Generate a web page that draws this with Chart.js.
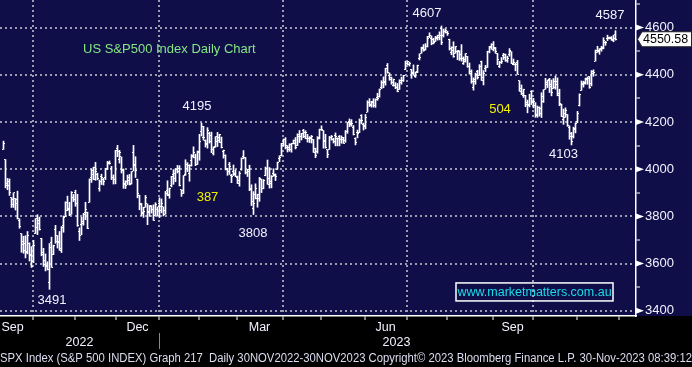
<!DOCTYPE html>
<html>
<head>
<meta charset="utf-8">
<script src="https://cdn.jsdelivr.net/npm/chart.js@4.4.0/dist/chart.umd.min.js"></script>
<style>
  html, body { margin: 0; padding: 0; background: #000; }
  #wrap { width: 692px; height: 367px; position: relative; }
</style>
</head>
<body>
<div id="wrap"><canvas id="spx"></canvas></div>
<script>
// SPX daily bars, 12 Sep 2022 .. 29 Nov 2023 (one row per month)
const opens = [
  4084, 4041, 3940, 3932, 3880, 3849, 3875, 3871, 3782, 3727, 3682, 3687, 3651, 3687, 3633,
  3610, 3727, 3753, 3771, 3706, 3647, 3596, 3590, 3520, 3690, 3638, 3746, 3695, 3689, 3657, 3762, 3799, 3825, 3834, 3808, 3881,
  3901, 3853, 3734, 3766, 3780, 3818, 3818, 3860, 3963, 3978, 4007, 3976, 3919, 3967, 3956, 3965, 4001, 4023, 4005, 3964, 3957,
  4087, 4040, 4052, 3996, 3934, 3947, 3954, 3940, 4069, 4016, 3958, 3890, 3853, 3811, 3839, 3853, 3816, 3844, 3829, 3805, 3830,
  3853, 3840, 3840, 3823, 3910, 3888, 3932, 3977, 3960, 3999, 4003, 3912, 3910, 3979, 4001, 3982, 4036, 4053, 4050, 4021,
  4070, 4158, 4136, 4120, 4105, 4153, 4144, 4068, 4096, 4118, 4120, 4115, 4077, 4058, 4001, 4019, 3973, 3992, 3977,
  3964, 3938, 3998, 4055, 4048, 3987, 3999, 3912, 3835, 3894, 3876, 3878, 3958, 3917, 3975, 4002, 3959, 3939, 3983, 3975, 3999, 4046, 4056,
  4102, 4128, 4094, 4082, 4085, 4111, 4122, 4100, 4140, 4137, 4164, 4140, 4131, 4132, 4132, 4126, 4088, 4075, 4129,
  4167, 4164, 4122, 4082, 4084, 4136, 4124, 4144, 4132, 4138, 4127, 4127, 4122, 4158, 4204, 4191, 4176, 4132, 4155, 4156, 4226, 4190,
  4184, 4242, 4282, 4271, 4285, 4268, 4304, 4308, 4345, 4366, 4366, 4440, 4397, 4381, 4355, 4355, 4345, 4338, 4367, 4375, 4422,
  4450, 4442, 4422, 4404, 4394, 4416, 4467, 4492, 4514, 4508, 4522, 4563, 4554, 4550, 4543, 4556, 4558, 4598, 4565, 4584,
  4579, 4550, 4494, 4514, 4492, 4498, 4501, 4487, 4450, 4458, 4478, 4434, 4416, 4345, 4380, 4416, 4397, 4456, 4389, 4426, 4433, 4500, 4518,
  4530, 4511, 4490, 4434, 4451, 4480, 4473, 4462, 4487, 4497, 4445, 4445, 4452, 4374, 4342, 4311, 4313, 4282, 4270, 4328,
  4284, 4270, 4233, 4260, 4234, 4289, 4339, 4366, 4380, 4360, 4342, 4346, 4358, 4322, 4274, 4211, 4235, 4232, 4175, 4153, 4140, 4171,
  4201, 4268, 4334, 4365, 4366, 4384, 4392, 4365, 4406, 4458, 4505, 4497, 4510, 4511, 4539, 4553, 4555, 4555, 4546, 4571,
];
const highs = [
  4119, 4041, 3961, 3959, 3880, 3900, 3876, 3907, 3790, 3727, 3716, 3718, 3736, 3688, 3672,
  3698, 3791, 3807, 3797, 3707, 3665, 3641, 3608, 3685, 3712, 3678, 3762, 3719, 3736, 3757, 3802, 3862, 3886, 3860, 3905, 3893,
  3911, 3894, 3751, 3796, 3813, 3860, 3818, 3959, 4001, 4009, 4029, 3983, 3954, 3979, 3962, 4004, 4033, 4035, 4012, 3976, 4080,
  4101, 4080, 4052, 4001, 3951, 3975, 3978, 3990, 4101, 4053, 3958, 3890, 3855, 3839, 3889, 3853, 3846, 3846, 3849, 3858, 3840,
  3879, 3874, 3840, 3906, 3951, 3920, 3970, 3998, 4003, 4016, 4015, 3913, 3973, 4040, 4028, 4019, 4062, 4095, 4064, 4077,
  4148, 4195, 4182, 4124, 4176, 4157, 4157, 4095, 4138, 4156, 4148, 4136, 4081, 4061, 4004, 4029, 3978, 4018, 3997,
  3971, 3990, 4048, 4079, 4050, 4000, 4017, 3934, 3905, 3938, 3894, 3965, 3958, 3956, 4009, 4039, 4007, 3973, 4002, 3980, 4030, 4057, 4110,
  4128, 4134, 4100, 4108, 4110, 4124, 4134, 4150, 4164, 4152, 4169, 4163, 4148, 4138, 4143, 4126, 4089, 4138, 4170,
  4184, 4164, 4148, 4083, 4139, 4143, 4131, 4154, 4133, 4143, 4141, 4135, 4164, 4198, 4213, 4210, 4185, 4133, 4166, 4213, 4231, 4195,
  4232, 4290, 4299, 4288, 4299, 4298, 4322, 4340, 4375, 4391, 4428, 4448, 4408, 4390, 4382, 4367, 4363, 4379, 4390, 4398, 4458,
  4456, 4454, 4423, 4442, 4412, 4441, 4489, 4517, 4528, 4532, 4563, 4578, 4565, 4555, 4563, 4568, 4582, 4607, 4594, 4595,
  4585, 4551, 4519, 4540, 4520, 4503, 4502, 4528, 4476, 4490, 4478, 4450, 4421, 4387, 4407, 4419, 4443, 4458, 4418, 4440, 4500, 4521, 4532,
  4541, 4516, 4491, 4457, 4473, 4491, 4488, 4479, 4511, 4498, 4467, 4450, 4461, 4375, 4357, 4339, 4313, 4293, 4318, 4333,
  4300, 4282, 4268, 4264, 4324, 4337, 4385, 4378, 4385, 4378, 4384, 4394, 4387, 4339, 4276, 4255, 4260, 4232, 4184, 4156, 4178, 4195,
  4245, 4319, 4374, 4373, 4386, 4391, 4393, 4418, 4421, 4505, 4521, 4511, 4521, 4557, 4542, 4568, 4560, 4562, 4568, 4587,
];
const lows = [
  4084, 3921, 3913, 3889, 3838, 3838, 3827, 3789, 3750, 3648, 3644, 3624, 3641, 3611, 3584,
  3604, 3727, 3723, 3742, 3633, 3588, 3569, 3573, 3491, 3584, 3638, 3686, 3666, 3656, 3647, 3733, 3799, 3824, 3803, 3809, 3863,
  3843, 3758, 3698, 3722, 3763, 3786, 3748, 3860, 3944, 3956, 3953, 3955, 3907, 3935, 3933, 3956, 3998, 4021, 3956, 3937, 3938,
  4053, 4026, 3984, 3919, 3918, 3935, 3933, 3937, 3993, 3965, 3879, 3828, 3803, 3796, 3839, 3765, 3800, 3814, 3783, 3805, 3801,
  3795, 3815, 3802, 3809, 3888, 3877, 3925, 3936, 3947, 3984, 3929, 3885, 3897, 3974, 3990, 3949, 4013, 4048, 4015, 4020,
  4038, 4141, 4123, 4094, 4089, 4111, 4070, 4060, 4093, 4096, 4113, 4090, 4047, 3997, 3974, 3978, 3943, 3973, 3968,
  3939, 3928, 3996, 4044, 3980, 3969, 3909, 3846, 3808, 3874, 3839, 3864, 3901, 3917, 3972, 3936, 3920, 3921, 3970, 3952, 3999, 4032, 4056,
  4099, 4086, 4073, 4076, 4072, 4107, 4086, 4100, 4113, 4124, 4134, 4129, 4115, 4113, 4111, 4071, 4049, 4068, 4128,
  4164, 4089, 4089, 4049, 4084, 4123, 4111, 4099, 4099, 4099, 4110, 4109, 4114, 4152, 4180, 4182, 4145, 4103, 4133, 4155, 4192, 4166,
  4171, 4242, 4266, 4263, 4263, 4262, 4292, 4305, 4341, 4345, 4356, 4407, 4377, 4360, 4352, 4341, 4328, 4338, 4360, 4372, 4422,
  4443, 4437, 4385, 4398, 4389, 4409, 4463, 4491, 4500, 4505, 4518, 4558, 4527, 4531, 4541, 4547, 4548, 4528, 4560, 4577,
  4567, 4505, 4485, 4474, 4491, 4464, 4461, 4458, 4444, 4454, 4432, 4403, 4364, 4335, 4360, 4382, 4397, 4376, 4357, 4414, 4431, 4493, 4508,
  4501, 4491, 4443, 4431, 4448, 4465, 4457, 4453, 4479, 4447, 4442, 4417, 4402, 4330, 4316, 4304, 4265, 4239, 4264, 4274,
  4260, 4220, 4220, 4225, 4219, 4283, 4339, 4346, 4325, 4311, 4342, 4339, 4311, 4269, 4223, 4190, 4220, 4182, 4127, 4103, 4132, 4154,
  4197, 4268, 4334, 4348, 4360, 4360, 4343, 4353, 4394, 4458, 4495, 4487, 4500, 4510, 4525, 4545, 4552, 4546, 4540, 4547,
];
const closes = [
  4110, 3932, 3946, 3901, 3873, 3900, 3856, 3790, 3758, 3693, 3655, 3647, 3720, 3640, 3586,
  3678, 3791, 3783, 3745, 3640, 3612, 3589, 3577, 3670, 3583, 3677, 3720, 3695, 3666, 3752, 3797, 3859, 3831, 3807, 3901, 3872,
  3856, 3760, 3720, 3771, 3807, 3828, 3749, 3957, 3993, 3957, 3992, 3959, 3947, 3965, 3950, 4004, 4027, 4026, 3964, 3958, 4080,
  4076, 4072, 3999, 3941, 3933, 3964, 3934, 3991, 4019, 3996, 3896, 3852, 3818, 3821, 3879, 3822, 3845, 3829, 3783, 3849, 3840,
  3825, 3853, 3808, 3895, 3893, 3919, 3970, 3983, 3999, 3991, 3929, 3899, 3973, 4020, 4017, 4016, 4060, 4071, 4018, 4077,
  4119, 4180, 4136, 4111, 4164, 4118, 4082, 4090, 4137, 4136, 4148, 4090, 4079, 3997, 3991, 4012, 3970, 3982, 3970,
  3951, 3981, 4045, 4048, 3986, 3992, 3918, 3862, 3855, 3920, 3892, 3960, 3917, 3951, 4002, 3937, 3948, 3971, 3977, 3971, 4027, 4051, 4109,
  4124, 4100, 4091, 4105, 4109, 4108, 4092, 4146, 4137, 4151, 4154, 4154, 4130, 4133, 4137, 4071, 4056, 4135, 4169,
  4167, 4119, 4091, 4061, 4136, 4138, 4119, 4137, 4130, 4124, 4136, 4110, 4159, 4198, 4192, 4193, 4145, 4115, 4151, 4205, 4206, 4180,
  4221, 4282, 4273, 4283, 4268, 4294, 4299, 4338, 4369, 4373, 4426, 4410, 4389, 4366, 4381, 4348, 4328, 4378, 4376, 4396, 4450,
  4455, 4446, 4411, 4399, 4409, 4439, 4472, 4510, 4505, 4522, 4555, 4566, 4534, 4536, 4554, 4567, 4566, 4537, 4582, 4589,
  4577, 4513, 4501, 4478, 4518, 4499, 4467, 4468, 4464, 4490, 4437, 4404, 4370, 4370, 4400, 4388, 4436, 4376, 4406, 4433, 4497, 4514, 4508,
  4516, 4497, 4465, 4451, 4457, 4487, 4462, 4467, 4505, 4450, 4453, 4444, 4402, 4330, 4320, 4337, 4274, 4275, 4300, 4288,
  4288, 4229, 4263, 4258, 4308, 4336, 4358, 4377, 4349, 4327, 4373, 4373, 4314, 4278, 4224, 4217, 4248, 4186, 4137, 4117, 4167, 4194,
  4237, 4318, 4358, 4365, 4379, 4383, 4347, 4415, 4411, 4496, 4502, 4508, 4514, 4547, 4538, 4556, 4559, 4550, 4554, 4550.58,
];

// bar index of the first trading day of each month, Oct 2022 .. Dec 2023
const monthStarts = [15, 36, 57, 78, 98, 117, 140, 159, 181, 202, 222, 245, 265, 287, 308];
const quarterStarts = [15, 78, 140, 202, 265];
const monthLabels = ["Sep", "Dec", "Mar", "Jun", "Sep"];
const monthLabelAt = [4.5, 67, 128, 191, 254.5];
const yearLabels = ["2022", "2023"];
const yearLabelAt = [38, 196.5];
const yTicks = [3400, 3500, 3600, 3700, 3800, 3900, 4000, 4100, 4200, 4300, 4400, 4500, 4600, 4700];
const yLabels = [3400, 3600, 3800, 4000, 4200, 4400, 4600];

const NAVY = "#100e48";
const GRID = "#9c9cae";
const WHITE = "#f2f2ff";
const YELLOW = "#f2f200";
const FONT = "'Liberation Sans', Arial, sans-serif";

// text notes, placed in bar index / price space
const notes = [
  { text: "US S&P500 Index Daily Chart", x: 39.75, y: 4509, color: "#84e684", align: "left" },
  { text: "4607", x: 211.75, y: 4662, color: WHITE },
  { text: "4195", x: 96.75, y: 4264, color: WHITE },
  { text: "4587", x: 303.25, y: 4653, color: WHITE },
  { text: "3491", x: 24.25, y: 3446, color: WHITE },
  { text: "3808", x: 124.75, y: 3730, color: WHITE },
  { text: "4103", x: 280, y: 4062, color: WHITE },
  { text: "387", x: 102, y: 3882, color: YELLOW },
  { text: "504", x: 248.25, y: 4255, color: YELLOW },
];
const website = { text: "www.marketmatters.com.au", x: 265.5, y: 3480 };

const footer = "SPX Index (S&P 500 INDEX) Graph 217  Daily 30NOV2022-30NOV2023 Copyright\u00A9 2023 Bloomberg Finance L.P. 30-Nov-2023 08:39:12";

const boundaries = monthStarts.map((s) => s - 0.5);
const quarterLines = quarterStarts.map((s) => s - 0.5);
const xTicks = [...boundaries, ...monthLabelAt, ...yearLabelAt].sort((a, b) => a - b);

const decor = {
  id: "decor",
  beforeDraw(chart) {
    const { ctx, chartArea } = chart;
    ctx.save();
    ctx.fillStyle = "#000";
    ctx.fillRect(0, 0, chart.width, chart.height);
    ctx.fillStyle = NAVY;
    ctx.fillRect(0, 0, chart.width, chartArea.bottom);
    ctx.restore();
  },
  afterDatasetsDraw(chart) {
    // open tick to the left, close tick to the right
    const { ctx, scales: { x, y } } = chart;
    ctx.save();
    ctx.fillStyle = "#fff";
    closes.forEach((c, i) => {
      const px = x.getPixelForValue(i);
      ctx.fillRect(px - 1.5, Math.floor(y.getPixelForValue(opens[i])), 1, 1);
      ctx.fillRect(px + 0.5, Math.floor(y.getPixelForValue(c)), 1, 1);
    });
    ctx.restore();
  },
  afterDraw(chart) {
    const { ctx, chartArea, scales: { x, y } } = chart;
    const right = chartArea.right;
    ctx.save();

    // arrow heads on the labelled price ticks
    ctx.fillStyle = "#fff";
    yLabels.forEach((v) => {
      const py = y.getPixelForValue(v);
      ctx.beginPath();
      ctx.moveTo(right, py - 3);
      ctx.lineTo(right + 8, py);
      ctx.lineTo(right, py + 3);
      ctx.closePath();
      ctx.fill();
    });

    // last price tag
    const last = closes[closes.length - 1];
    const ty = y.getPixelForValue(last);
    ctx.beginPath();
    ctx.moveTo(right + 1.5, ty);
    ctx.lineTo(right + 6, ty - 7.5);
    ctx.lineTo(chart.width - 0.5, ty - 7.5);
    ctx.lineTo(chart.width - 0.5, ty + 7.5);
    ctx.lineTo(right + 6, ty + 7.5);
    ctx.closePath();
    ctx.fillStyle = "#fff";
    ctx.fill();
    ctx.strokeStyle = "#222";
    ctx.lineWidth = 1;
    ctx.stroke();
    ctx.fillStyle = "#000";
    ctx.font = "12.5px " + FONT;
    ctx.textAlign = "left";
    ctx.textBaseline = "middle";
    ctx.fillText(last.toFixed(2), right + 7, ty + 0.5);

    // notes
    ctx.font = "13px " + FONT;
    notes.forEach((n) => {
      ctx.fillStyle = n.color;
      ctx.textAlign = n.align || "center";
      ctx.fillText(n.text, x.getPixelForValue(n.x), y.getPixelForValue(n.y));
    });

    // website box
    const wx = x.getPixelForValue(website.x);
    const wy = y.getPixelForValue(website.y);
    ctx.font = "12.5px " + FONT;
    ctx.strokeStyle = "#fff";
    ctx.lineWidth = 1.5;
    ctx.strokeRect(wx - 78.5, wy - 9, 157, 18);
    ctx.fillStyle = "#18dce8";
    ctx.textAlign = "center";
    ctx.fillText(website.text, wx, wy + 0.5);

    // separator between the two years
    const sx = Math.round(x.getPixelForValue(quarterLines[1])) + 0.5;
    ctx.strokeStyle = "#8a8a8a";
    ctx.lineWidth = 1;
    ctx.beginPath();
    ctx.moveTo(sx, chartArea.bottom + 17);
    ctx.lineTo(sx, chartArea.bottom + 33);
    ctx.stroke();

    ctx.restore();
  },
};

new Chart(document.getElementById("spx"), {
  type: "bar",
  data: {
    datasets: [
      {
        data: closes.map((c, i) => ({ x: i, y: [lows[i], highs[i]] })),
        backgroundColor: "#ffffff",
        borderWidth: 0,
        barThickness: 1,
        grouped: false,
      },
    ],
  },
  options: {
    responsive: true,
    maintainAspectRatio: false,
    animation: false,
    events: [],
    layout: { padding: 0 },
    scales: {
      x: {
        type: "linear",
        bounds: "data",
        offset: false,
        min: -1.75,
        max: 316.25,
        afterBuildTicks: (s) => {
          s.ticks = xTicks.map((v) => ({ value: v }));
        },
        afterFit: (s) => {
          s.height = 32;
          s.paddingLeft = 0;
          s.paddingRight = 0;
        },
        ticks: {
          autoSkip: false,
          maxRotation: 0,
          padding: 0,
          color: WHITE,
          font: { family: FONT, size: 12.5, lineHeight: 1.2 },
          callback: (v) => {
            const m = monthLabelAt.indexOf(v);
            if (m >= 0) return monthLabels[m];
            const k = yearLabelAt.indexOf(v);
            if (k >= 0) return ["", yearLabels[k]];
            return "";
          },
        },
        grid: {
          offset: false,
          lineWidth: 2,
          color: (ctx) => (quarterLines.includes(ctx.tick && ctx.tick.value) ? GRID : "transparent"),
          tickColor: (ctx) => (boundaries.includes(ctx.tick && ctx.tick.value) ? "#fff" : "transparent"),
          tickWidth: 1,
          tickLength: 4,
        },
        border: { color: "#fff", width: 1.5, dash: [2, 3] },
      },
      y: {
        position: "right",
        bounds: "data",
        beginAtZero: false,
        min: 3378,
        max: 4717,
        afterBuildTicks: (s) => {
          s.ticks = yTicks.map((v) => ({ value: v }));
        },
        afterFit: (s) => {
          s.width = 56;
          s.paddingTop = 0;
          s.paddingBottom = 0;
        },
        ticks: {
          autoSkip: false,
          padding: 5,
          color: WHITE,
          font: { family: FONT, size: 13 },
          callback: (v) => (yLabels.includes(v) ? String(v) : ""),
        },
        grid: {
          lineWidth: 2,
          color: (ctx) => (yLabels.includes(ctx.tick && ctx.tick.value) ? GRID : "transparent"),
          tickColor: "#fff",
          tickWidth: 1,
          tickLength: 4,
        },
        border: { color: "#fff", width: 1.5, dash: [2, 3] },
      },
    },
    plugins: {
      legend: { display: false },
      tooltip: { enabled: false },
      title: {
        display: true,
        position: "bottom",
        align: "start",
        text: footer,
        color: "#dcdcf0",
        font: { family: FONT, size: 12, weight: "normal" },
        padding: { top: 3, bottom: 1.6 },
      },
    },
  },
  plugins: [decor],
});
</script>
</body>
</html>
